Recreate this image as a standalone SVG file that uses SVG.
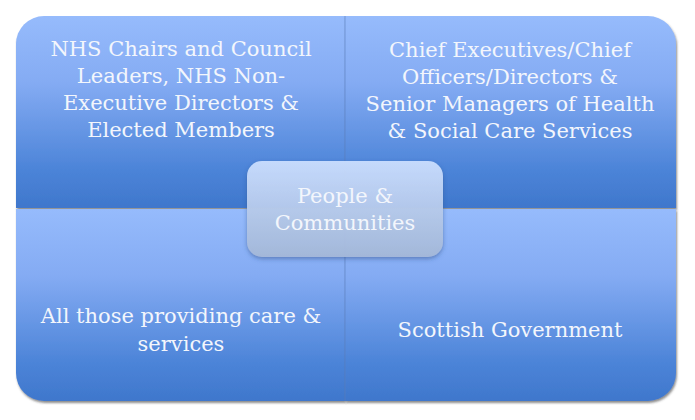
<svg xmlns="http://www.w3.org/2000/svg" width="695" height="420" viewBox="0 0 695 420">
  <defs>
    <linearGradient id="quad" x1="0" y1="0" x2="0" y2="1">
      <stop offset="0" stop-color="#96bbfc"/>
      <stop offset="0.35" stop-color="#84abf3"/>
      <stop offset="0.8" stop-color="#4c84d8"/>
      <stop offset="1" stop-color="#3f77cc"/>
    </linearGradient>
    <linearGradient id="center" x1="0" y1="0" x2="0" y2="1">
      <stop offset="0" stop-color="#cadeff"/>
      <stop offset="1" stop-color="#a5b9da"/>
    </linearGradient>
    <filter id="shadow" x="-5%" y="-5%" width="110%" height="115%">
      <feDropShadow dx="1" dy="2" stdDeviation="1.2" flood-color="#404040" flood-opacity="0.6"/>
    </filter>
    <filter id="cshadow" x="-10%" y="-10%" width="120%" height="130%">
      <feDropShadow dx="0" dy="2" stdDeviation="2" flood-color="#2a4a80" flood-opacity="0.5"/>
    </filter>
  </defs>
  <style>
    .q { fill: url(#quad); filter: url(#shadow); }
    .t { font-family: "DejaVu Serif", "Liberation Serif", serif; font-size: 21px; fill: #f3f6fc; text-anchor: middle; }
  </style>
  <rect width="695" height="420" fill="#ffffff"/>
  <g id="q-top-left">
    <path class="q" d="M16,208 V44 A28,28 0 0 1 44,16 H345 V208 Z"/>
    <text class="t" x="181" y="56">NHS Chairs and Council</text>
    <text class="t" x="181" y="83">Leaders, NHS Non-</text>
    <text class="t" x="181" y="110">Executive Directors &amp;</text>
    <text class="t" x="181" y="137">Elected Members</text>
  </g>
  <g id="q-top-right">
    <path class="q" d="M345,16 H648 A28,28 0 0 1 676,44 V208 H345 Z"/>
    <text class="t" x="510" y="57">Chief Executives/Chief</text>
    <text class="t" x="510" y="84">Officers/Directors &amp;</text>
    <text class="t" x="510" y="111">Senior Managers of Health</text>
    <text class="t" x="510" y="138">&amp; Social Care Services</text>
  </g>
  <g id="q-bottom-left">
    <path class="q" d="M16,209 H345 V401 H44 A28,28 0 0 1 16,373 Z"/>
    <text class="t" x="181" y="323">All those providing care &amp;</text>
    <text class="t" x="181" y="351">services</text>
  </g>
  <g id="q-bottom-right">
    <path class="q" d="M345,209 H676 V373 A28,28 0 0 1 648,401 H345 Z"/>
    <text class="t" x="510" y="337">Scottish Government</text>
  </g>
  <g id="connectors">
    <line x1="345" y1="16" x2="345" y2="208" stroke="#5a7fc0" stroke-opacity="0.6" stroke-width="1"/>
    <line x1="345" y1="209" x2="345" y2="401" stroke="#5a7fc0" stroke-opacity="0.6" stroke-width="1"/>
  </g>
  <g id="center-node">
    <rect x="247" y="161" width="196" height="96" rx="15" fill="url(#center)" fill-opacity="0.95" filter="url(#cshadow)"/>
    <text class="t" x="345" y="203">People &amp;</text>
    <text class="t" x="345" y="230">Communities</text>
  </g>
</svg>
